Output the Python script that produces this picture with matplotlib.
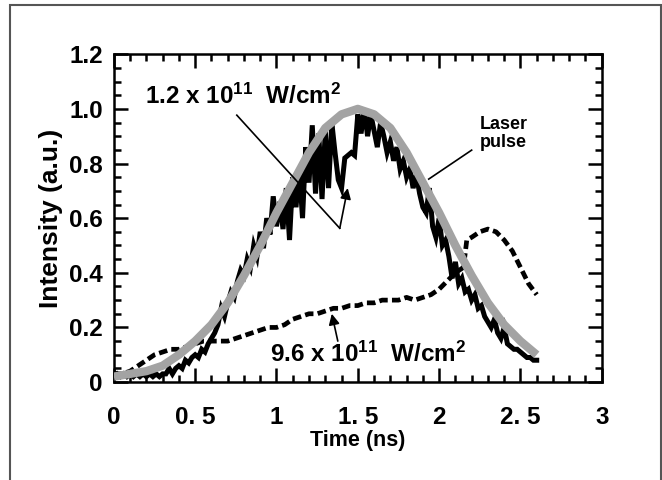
import numpy as np
import matplotlib
matplotlib.use("Agg")
import matplotlib.pyplot as plt
from matplotlib.patches import Rectangle
from matplotlib.ticker import MultipleLocator

plt.rcParams['font.family'] = ['Liberation Sans', 'DejaVu Sans']
plt.rcParams['font.weight'] = 'bold'
plt.rcParams['mathtext.fontset'] = 'custom'
plt.rcParams['mathtext.default'] = 'bf'
plt.rcParams['mathtext.bf'] = 'Liberation Sans:bold'

# ---- data ----
# 1.2e11 W/cm2 signal (solid black), sampled every 0.02 ns
t_low = np.round(np.arange(0, 2.601, 0.02), 2)
i_low = [0.02, 0.03, 0.02, 0.03, 0.02, 0.03, 0.02, 0.03, 0.02, 0.03,
         0.02, 0.03, 0.02, 0.03, 0.02, 0.03, 0.03, 0.05, 0.03, 0.05,
         0.06, 0.05, 0.08, 0.07, 0.09, 0.10, 0.09, 0.12, 0.11, 0.14,
         0.16, 0.18, 0.21, 0.27, 0.24, 0.29, 0.33, 0.31, 0.37, 0.41,
         0.39, 0.45, 0.42, 0.50, 0.46, 0.55, 0.49, 0.60, 0.54, 0.68,
         0.57, 0.66, 0.56, 0.71, 0.52, 0.75, 0.64, 0.78, 0.60, 0.86,
         0.73, 0.94, 0.69, 0.91, 0.67, 0.92, 0.71, 0.95, 0.84, 0.74,
         0.71, 0.82, 0.83, 0.84, 0.83, 0.98, 0.91, 1.00, 0.90, 0.98,
         0.92, 0.86, 0.95, 0.90, 0.84, 0.88, 0.81, 0.86, 0.78, 0.81,
         0.75, 0.78, 0.71, 0.76, 0.69, 0.64, 0.62, 0.71, 0.57, 0.53,
         0.60, 0.50, 0.52, 0.46, 0.38, 0.44, 0.36, 0.38, 0.33, 0.34,
         0.30, 0.32, 0.27, 0.28, 0.24, 0.22, 0.20, 0.23, 0.18, 0.16,
         0.20, 0.14, 0.13, 0.12, 0.12, 0.11, 0.10, 0.09, 0.09, 0.08,
         0.08]

# 9.6e11 W/cm2 signal (dashed black)
t_high = [0.00, 0.05, 0.10, 0.15, 0.20, 0.25, 0.30, 0.35, 0.40, 0.45,
          0.50, 0.55, 0.60, 0.65, 0.70, 0.75, 0.80, 0.85, 0.90, 0.95,
          1.00, 1.05, 1.10, 1.15, 1.20, 1.25, 1.30, 1.35, 1.40, 1.45,
          1.50, 1.55, 1.60, 1.65, 1.70, 1.75, 1.80, 1.85, 1.90, 1.95,
          2.00, 2.05, 2.10, 2.15, 2.17, 2.20, 2.25, 2.30, 2.35, 2.40,
          2.45, 2.50, 2.55, 2.60]
i_high = [0.03, 0.03, 0.04, 0.06, 0.08, 0.10, 0.11, 0.12, 0.12, 0.13,
          0.14, 0.15, 0.15, 0.15, 0.15, 0.16, 0.17, 0.18, 0.19, 0.20,
          0.20, 0.21, 0.23, 0.24, 0.25, 0.25, 0.26, 0.27, 0.27, 0.28,
          0.28, 0.29, 0.29, 0.30, 0.30, 0.30, 0.31, 0.30, 0.31, 0.32,
          0.34, 0.37, 0.40, 0.42, 0.52, 0.53, 0.55, 0.56, 0.55, 0.52,
          0.48, 0.42, 0.36, 0.32]

# laser pulse (grey)
t_laser = [0.0, 0.1, 0.2, 0.3, 0.4, 0.5, 0.6, 0.7, 0.8, 0.9, 1.0, 1.1, 1.2,
           1.3, 1.4, 1.5, 1.6, 1.7, 1.8, 1.9, 2.0, 2.1, 2.2, 2.3, 2.4, 2.5, 2.6]
i_laser = [0.02, 0.03, 0.04, 0.06, 0.10, 0.15, 0.21, 0.29, 0.39, 0.50, 0.62,
           0.73, 0.84, 0.93, 0.98, 1.00, 0.98, 0.93, 0.84, 0.73, 0.62, 0.50,
           0.39, 0.29, 0.21, 0.15, 0.10]

xticks = [0, 0.5, 1, 1.5, 2, 2.5, 3]
xticklabels = ["0", "0. 5", "1", "1. 5", "2", "2. 5", "3"]
yticks = [0, 0.2, 0.4, 0.6, 0.8, 1.0, 1.2]
yticklabels = ["0", "0.2", "0.4", "0.6", "0.8", "1.0", "1.2"]

fig = plt.figure(figsize=(6.62, 4.8), dpi=100)
ax = fig.add_axes([0.172, 0.204, 0.737, 0.683])

# outer frame
fig.patches.append(Rectangle((10 / 662, -0.02), 651 / 662, 1.02 - 5 / 480,
                             transform=fig.transFigure, fill=False,
                             edgecolor='#555555', lw=1.5))

ax.plot(t_low, i_low, color='black', lw=3.6, zorder=2, solid_joinstyle='miter')
ax.plot(t_high, i_high, color='black', lw=3.4, ls=(0, (1.8, 0.9)), zorder=2)
ax.plot(t_laser, i_laser, color='#a3a3a3', lw=6, zorder=3, solid_capstyle='butt')

ax.set_xlim(0, 3)
ax.set_ylim(0, 1.2)
ax.set_xticks(xticks)
ax.set_xticklabels(xticklabels)
ax.set_yticks(yticks)
ax.set_yticklabels(yticklabels)
ax.xaxis.set_minor_locator(MultipleLocator(0.1))
ax.yaxis.set_minor_locator(MultipleLocator(0.05))
ax.tick_params(which='both', direction='in', top=True, right=True, width=1.8)
ax.tick_params(which='major', length=10, labelsize=17.5)
ax.tick_params(which='minor', length=5)
ax.tick_params(axis='x', which='major', pad=17)
ax.tick_params(axis='y', which='major', pad=8)
for s in ax.spines.values():
    s.set_linewidth(1.8)

ax.set_xlabel("Time (ns)", fontsize=15.5, fontweight='bold', labelpad=1)
ax.set_ylabel("Intensity (a.u.)", fontsize=19, fontweight='bold', labelpad=4)

# annotations
ax.text(0.19, 1.02, "1.2 x 10$^{11}$  W/cm$^{2}$", fontsize=17.5,
        fontweight='bold', va='baseline')
ax.plot([0.756, 1.389], [0.977, 0.563], color='black', lw=1.2, zorder=4)
ax.annotate("", xy=(1.438, 0.71), xytext=(1.389, 0.563),
            arrowprops=dict(arrowstyle='-|>', color='black', lw=1.2,
                            mutation_scale=16, shrinkA=0, shrinkB=0), zorder=4)

ax.text(0.957, 0.073, "9.6 x 10$^{11}$  W/cm$^{2}$", fontsize=17.5,
        fontweight='bold', va='baseline')
ax.annotate("", xy=(1.34, 0.25), xytext=(1.377, 0.15),
            arrowprops=dict(arrowstyle='-|>', color='black', lw=1.2,
                            mutation_scale=16, shrinkA=0, shrinkB=0), zorder=4)

ax.text(2.397, 0.911, "Laser\npulse", fontsize=13, fontweight='bold',
        ha='center', va='center', linespacing=1.05)
ax.plot([2.2, 1.936], [0.849, 0.743], color='black', lw=1.2, zorder=4)

fig.savefig("out.png", dpi=100)
